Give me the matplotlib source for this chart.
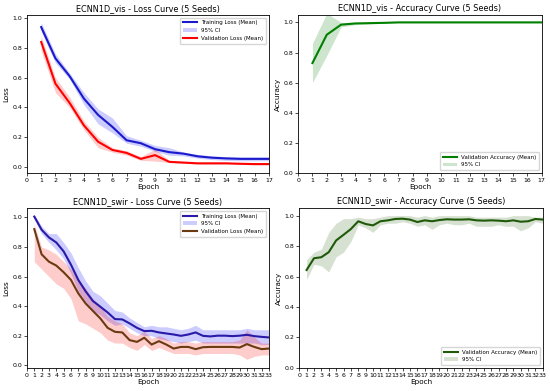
import matplotlib
matplotlib.use("Agg")
import matplotlib.pyplot as plt
import numpy as np

# ---- ECNN1D_vis (17 epochs) ----
vis_epochs = list(range(1, 18))
vis_train = [0.94, 0.73, 0.61, 0.46, 0.35, 0.27, 0.18, 0.16, 0.12, 0.10, 0.09, 0.072, 0.063, 0.058, 0.055, 0.055, 0.055]
vis_train_lo = [0.91, 0.70, 0.59, 0.42, 0.29, 0.23, 0.16, 0.14, 0.105, 0.08, 0.075, 0.06, 0.05, 0.045, 0.042, 0.042, 0.042]
vis_train_hi = [0.97, 0.76, 0.63, 0.50, 0.39, 0.33, 0.21, 0.18, 0.145, 0.13, 0.10, 0.085, 0.075, 0.07, 0.068, 0.068, 0.068]
vis_val = [0.84, 0.56, 0.43, 0.28, 0.17, 0.115, 0.095, 0.055, 0.08, 0.035, 0.03, 0.025, 0.025, 0.025, 0.022, 0.02, 0.02]
vis_val_lo = [0.78, 0.50, 0.40, 0.25, 0.13, 0.10, 0.08, 0.045, 0.04, 0.03, 0.025, 0.02, 0.02, 0.02, 0.017, 0.015, 0.015]
vis_val_hi = [0.88, 0.60, 0.47, 0.31, 0.20, 0.13, 0.11, 0.07, 0.12, 0.045, 0.035, 0.03, 0.03, 0.03, 0.027, 0.025, 0.025]
vis_acc = [0.73, 0.918, 0.985, 0.993, 0.995, 0.997, 1.0, 1.0, 1.0, 1.0, 1.0, 1.0, 1.0, 1.0, 1.0, 1.0, 1.0]
vis_acc_lo = [0.60, 0.78, 0.97, 0.985, 0.99, 0.995, 0.998, 0.998, 0.998, 0.998, 0.998, 0.998, 0.998, 0.998, 0.998, 0.998, 0.998]
vis_acc_hi = [0.86, 1.06, 1.0, 1.0, 1.0, 1.0, 1.002, 1.002, 1.002, 1.002, 1.002, 1.002, 1.002, 1.002, 1.002, 1.002, 1.002]

# ---- ECNN1D_swir (33 epochs) ----
swir_epochs = list(range(1, 34))
swir_train = [1.005, 0.916, 0.864, 0.83, 0.77, 0.68, 0.577, 0.50, 0.434, 0.396, 0.357, 0.312, 0.31, 0.283, 0.253,
              0.231, 0.233, 0.222, 0.215, 0.208, 0.199, 0.208, 0.222, 0.199, 0.195, 0.20, 0.20, 0.197, 0.20, 0.206,
              0.197, 0.192, 0.188]
swir_train_lo = [0.99, 0.89, 0.83, 0.78, 0.72, 0.62, 0.50, 0.43, 0.37, 0.34, 0.30, 0.27, 0.28, 0.25, 0.22,
                 0.20, 0.20, 0.18, 0.17, 0.16, 0.15, 0.16, 0.17, 0.15, 0.15, 0.15, 0.15, 0.15, 0.15, 0.15,
                 0.15, 0.14, 0.14]
swir_train_hi = [1.02, 0.94, 0.89, 0.89, 0.83, 0.76, 0.66, 0.57, 0.50, 0.47, 0.42, 0.37, 0.36, 0.32, 0.29,
                 0.26, 0.27, 0.26, 0.26, 0.25, 0.24, 0.25, 0.27, 0.24, 0.24, 0.24, 0.24, 0.24, 0.24, 0.25,
                 0.24, 0.24, 0.24]
swir_val = [0.92, 0.75, 0.70, 0.674, 0.629, 0.577, 0.486, 0.418, 0.367, 0.317, 0.253, 0.226, 0.222, 0.17, 0.158,
            0.186, 0.14, 0.163, 0.14, 0.113, 0.124, 0.124, 0.109, 0.122, 0.124, 0.124, 0.124, 0.124, 0.12, 0.143,
            0.124, 0.109, 0.113]
swir_val_lo = [0.70, 0.65, 0.60, 0.55, 0.52, 0.45, 0.30, 0.28, 0.25, 0.22, 0.17, 0.15, 0.15, 0.12, 0.10,
               0.14, 0.10, 0.12, 0.10, 0.08, 0.08, 0.08, 0.07, 0.08, 0.08, 0.08, 0.08, 0.08, 0.07, 0.04,
               0.06, 0.07, 0.07]
swir_val_hi = [0.95, 0.80, 0.78, 0.75, 0.70, 0.65, 0.58, 0.52, 0.45, 0.40, 0.33, 0.30, 0.28, 0.22, 0.20,
               0.23, 0.18, 0.20, 0.18, 0.15, 0.16, 0.16, 0.15, 0.16, 0.16, 0.16, 0.16, 0.16, 0.17, 0.24,
               0.19, 0.15, 0.15]
swir_acc = [0.643, 0.72, 0.727, 0.76, 0.837, 0.874, 0.912, 0.963, 0.945, 0.936, 0.963, 0.969, 0.978, 0.98, 0.974,
            0.958, 0.969, 0.963, 0.971, 0.976, 0.974, 0.974, 0.976, 0.969, 0.967, 0.969, 0.967, 0.963, 0.969, 0.96,
            0.963, 0.978, 0.974]
swir_acc_lo = [0.58, 0.68, 0.67, 0.63, 0.73, 0.76, 0.83, 0.94, 0.92, 0.89, 0.94, 0.95, 0.95, 0.96, 0.95,
               0.93, 0.94, 0.91, 0.94, 0.95, 0.94, 0.94, 0.95, 0.93, 0.93, 0.93, 0.94, 0.93, 0.93, 0.90,
               0.92, 0.96, 0.95]
swir_acc_hi = [0.71, 0.76, 0.78, 0.89, 0.95, 0.98, 0.98, 0.99, 0.98, 0.98, 0.99, 1.0, 1.0, 1.0, 1.0,
               0.99, 1.0, 0.99, 1.0, 1.0, 1.0, 1.0, 1.0, 0.99, 0.99, 0.99, 0.99, 0.99, 1.0, 1.0,
               1.0, 0.99, 0.99]

TITLE_FS = 5.9
LABEL_FS = 5.2
TICK_FS = 4.5
LEG_FS = 4.0


def loss_panel(ax, name, ep, tr, tr_lo, tr_hi, va, va_lo, va_hi, tr_color, va_color, ylim):
    ax.plot(ep, tr, color=tr_color, lw=1.5, label='Training Loss (Mean)')
    ax.fill_between(ep, tr_lo, tr_hi, color='blue', alpha=0.2, lw=0, label='95% CI')
    ax.plot(ep, va, color=va_color, lw=1.5, label='Validation Loss (Mean)')
    ax.fill_between(ep, va_lo, va_hi, color='red', alpha=0.2, lw=0)
    ax.set_title(name + ' - Loss Curve (5 Seeds)', fontsize=TITLE_FS, pad=3)
    ax.set_xlabel('Epoch', fontsize=LABEL_FS, labelpad=1)
    ax.set_ylabel('Loss', fontsize=LABEL_FS, labelpad=2)
    ax.set_xlim(0, len(ep))
    ax.set_xticks(range(0, len(ep) + 1))
    ax.set_ylim(*ylim)
    ax.set_yticks(np.arange(0, 1.01, 0.2))
    ax.legend(loc='upper right', fontsize=LEG_FS, handlelength=2.5, borderpad=0.5, labelspacing=0.5)


def acc_panel(ax, name, ep, acc, lo, hi, line_color, fill_color):
    ax.plot(ep, acc, color=line_color, lw=1.5, label='Validation Accuracy (Mean)')
    ax.fill_between(ep, lo, hi, color=fill_color, alpha=0.2, lw=0, label='95% CI')
    ax.set_title(name + ' - Accuracy Curve (5 Seeds)', fontsize=TITLE_FS, pad=3)
    ax.set_xlabel('Epoch', fontsize=LABEL_FS, labelpad=1)
    ax.set_ylabel('Accuracy', fontsize=LABEL_FS, labelpad=2)
    ax.set_xlim(0, len(ep))
    ax.set_xticks(range(0, len(ep) + 1))
    ax.set_ylim(0, 1.05)
    ax.set_yticks(np.arange(0, 1.01, 0.2))
    ax.legend(loc='lower right', fontsize=LEG_FS, handlelength=2.5, borderpad=0.5, labelspacing=0.5)


fig = plt.figure(figsize=(5.5, 3.91), dpi=100)
ax1 = fig.add_axes([0.049, 0.5575, 0.44, 0.4045])
ax2 = fig.add_axes([0.542, 0.5575, 0.443, 0.4045])
ax3 = fig.add_axes([0.049, 0.059, 0.44, 0.409])
ax4 = fig.add_axes([0.544, 0.059, 0.443, 0.409])

loss_panel(ax1, 'ECNN1D_vis', vis_epochs, vis_train, vis_train_lo, vis_train_hi,
           vis_val, vis_val_lo, vis_val_hi, '#1a1acc', 'red', (-0.04, 1.022))
acc_panel(ax2, 'ECNN1D_vis', vis_epochs, vis_acc, vis_acc_lo, vis_acc_hi, 'green', 'green')
loss_panel(ax3, 'ECNN1D_swir', swir_epochs, swir_train, swir_train_lo, swir_train_hi,
           swir_val, swir_val_lo, swir_val_hi, '#2a1aa8', '#6b3a10', (-0.018, 1.063))
acc_panel(ax4, 'ECNN1D_swir', swir_epochs, swir_acc, swir_acc_lo, swir_acc_hi, '#1f5a0a', '#3a6b1a')

for ax in (ax1, ax2, ax3, ax4):
    ax.tick_params(labelsize=TICK_FS, length=2, width=0.5, pad=1.5)
    for s in ax.spines.values():
        s.set_linewidth(0.6)

fig.savefig('out.png', dpi=100)
